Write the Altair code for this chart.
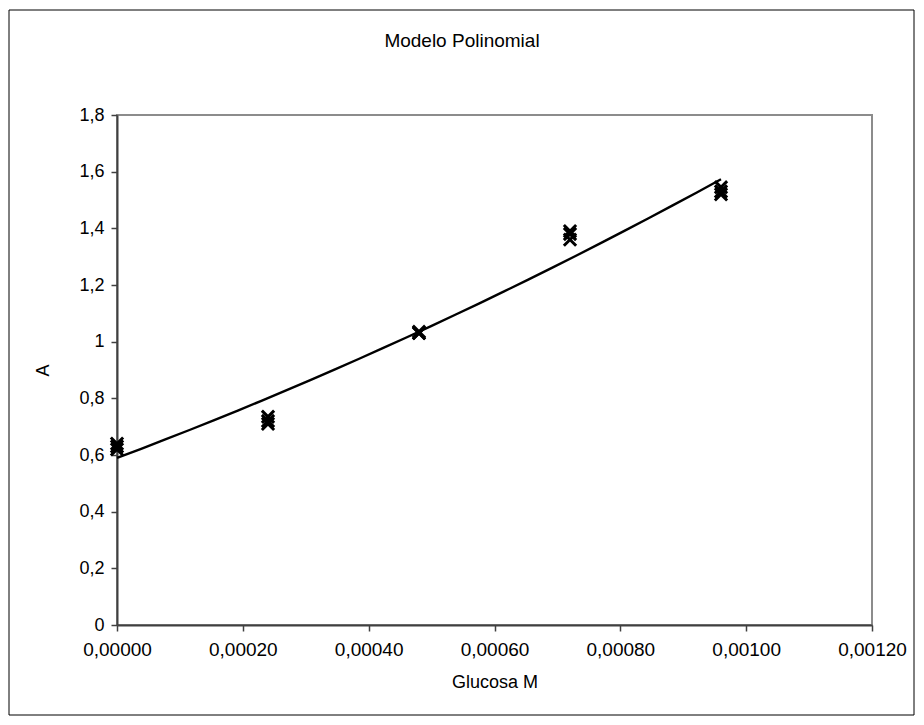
import altair as alt
import pandas as pd

# Data
glucosa = [0.0, 0.0, 0.0,
           0.00024, 0.00024, 0.00024,
           0.00048, 0.00048, 0.00048,
           0.00072, 0.00072, 0.00072,
           0.00096, 0.00096, 0.00096]
absorbancia = [0.62, 0.63, 0.64,
               0.71, 0.72, 0.735,
               1.03, 1.035, 1.03,
               1.36, 1.38, 1.39,
               1.52, 1.53, 1.545]

x_ticks = [0, 0.0002, 0.0004, 0.0006, 0.0008, 0.0010, 0.0012]
y_ticks = [0, 0.2, 0.4, 0.6, 0.8, 1.0, 1.2, 1.4, 1.6, 1.8]
titulo = ["Modelo Polinomial"]

df = pd.DataFrame({"Glucosa": glucosa, "A": absorbancia})

FONT = "Liberation Sans"
W, H = 755, 510
PAD_L, PAD_T = 117, 115

xscale = alt.Scale(domain=[0, 0.0012], nice=False, zero=False)
yscale = alt.Scale(domain=[0, 1.8], nice=False)

xaxis = alt.Axis(
    values=x_ticks,
    labelExpr="replace(format(datum.value, '.5f'), '.', ',')",
    title="Glucosa M",
    grid=False,
    tickSize=6,
    labelPadding=9,
    titlePadding=14,
    labelFlush=False,
    labelOverlap=False,
    labelFontSize=19,
)
yaxis = alt.Axis(
    values=y_ticks,
    labelExpr="replace(format(datum.value, '.1~f'), '.', ',')",
    title="A",
    grid=False,
    tickSize=6,
    labelPadding=7,
    titlePadding=26,
    labelFlush=False,
    labelOverlap=False,
    labelFontSize=18,
)

base = alt.Chart(df)

points = base.mark_point(
    shape="M-1,-1L1,1M-1,1L1,-1",
    filled=False,
    stroke="black",
    strokeWidth=3,
    size=150,
    opacity=1,
).encode(
    x=alt.X("Glucosa:Q", scale=xscale, axis=xaxis),
    y=alt.Y("A:Q", scale=yscale, axis=yaxis),
)

trend = base.transform_regression(
    "Glucosa", "A", method="poly", order=2
).mark_line(color="black", strokeWidth=2.4).encode(
    x=alt.X("Glucosa:Q", scale=xscale),
    y=alt.Y("A:Q", scale=yscale),
)

frame = alt.Chart(pd.DataFrame({"k": [0]})).mark_rect(
    filled=False, stroke="black", strokeWidth=1, clip=False
).encode(
    x=alt.value(9 - PAD_L),
    x2=alt.value(914 - PAD_L),
    y=alt.value(10 - PAD_T),
    y2=alt.value(715 - PAD_T),
)

title_text = alt.Chart(pd.DataFrame({"t": titulo})).mark_text(
    font=FONT, fontSize=19, color="black", align="center", baseline="middle"
).encode(
    text="t:N",
    x=alt.value(462 - PAD_L),
    y=alt.value(41 - PAD_T),
)

chart = alt.layer(frame, trend, points, title_text).properties(
    width=W,
    height=H,
    autosize=alt.AutoSizeParams(type="none"),
    padding={"left": PAD_L, "top": PAD_T, "right": 924 - PAD_L - W, "bottom": 725 - PAD_T - H},
    background="white",
).configure_view(
    stroke="#8c8c8c", strokeWidth=2
).configure_axis(
    labelFont=FONT,
    titleFont=FONT,
    titleFontSize=18,
    titleFontWeight="normal",
    labelColor="black",
    titleColor="black",
    domainColor="#404040",
    domainWidth=2,
    tickColor="#404040",
    tickWidth=1.5,
).configure_axisY(
    titleAngle=-90
)

chart.save("out.html", embed_options={"renderer": "svg", "actions": False})
